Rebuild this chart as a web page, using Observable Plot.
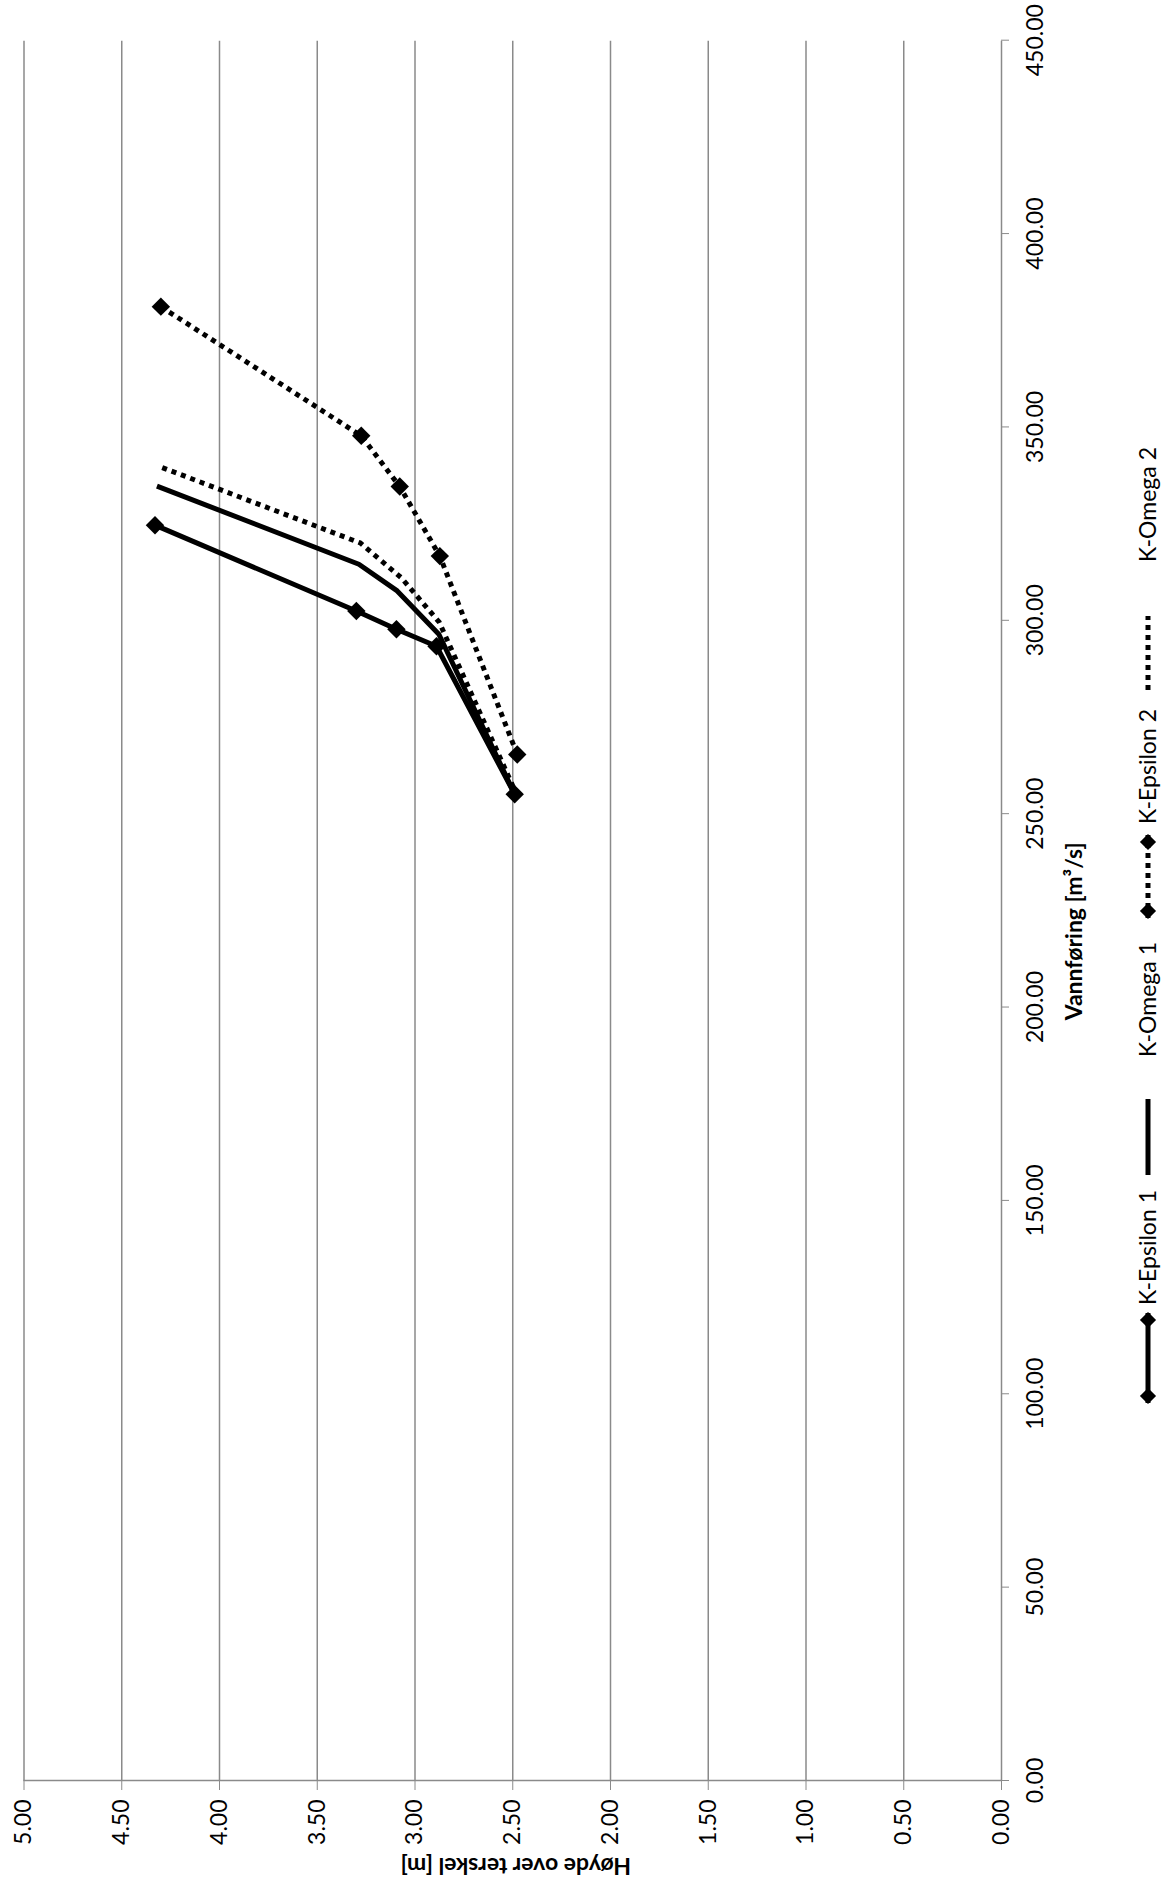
<!DOCTYPE html>
<html><head><meta charset="utf-8">
<script src="https://cdn.jsdelivr.net/npm/d3@7"></script>
<script src="https://cdn.jsdelivr.net/npm/@observablehq/plot@0.6"></script>
<style>
html,body{margin:0;padding:0;background:#fff;width:1162px;height:1899px;overflow:hidden;}
#rot{position:absolute;left:0;top:0;width:1899px;height:1162px;transform-origin:0 0;transform:translate(0px,1899px) rotate(-90deg);background:#fff;}
#rot svg{position:absolute;left:0;top:0;}
</style></head><body>
<div id="rot"></div>
<script>
// Series (Høyde over terskel [m], Vannføring [m³/s])
const seriesNames = ["K-Epsilon 1", "K-Omega 1", "K-Epsilon 2", "K-Omega 2"];
const kEpsilon1Hoyde = [4.33, 3.30, 3.095, 2.89, 2.49];
const kEpsilon1Q     = [324.6, 302.4, 297.7, 293.3, 255.0];
const kOmega1Hoyde   = [4.32, 3.287, 3.091, 2.878, 2.49];
const kOmega1Q       = [334.7, 314.5, 307.6, 296.4, 255.0];
const kEpsilon2Hoyde = [4.30, 3.275, 3.078, 2.873, 2.477];
const kEpsilon2Q     = [381.1, 347.7, 334.6, 316.6, 265.3];
const kOmega2Hoyde   = [4.293, 3.28, 3.07, 2.876, 2.485];
const kOmega2Q       = [339.5, 320.0, 311.0, 299.5, 255.5];
const xTicks = [0, 50, 100, 150, 200, 250, 300, 350, 400, 450];
const yTicks = [0, 0.5, 1, 1.5, 2, 2.5, 3, 3.5, 4, 4.5, 5];
const xTitle = "Vannføring [m³/s]";
const yTitle = "Høyde over terskel [m]";

const hs = [kEpsilon1Hoyde, kOmega1Hoyde, kEpsilon2Hoyde, kOmega2Hoyde];
const qs = [kEpsilon1Q, kOmega1Q, kEpsilon2Q, kOmega2Q];
const rows = [];
seriesNames.forEach((s, i) => hs[i].forEach((h, j) => rows.push({serie: s, h, q: qs[i][j]})));
const of = s => rows.filter(r => r.serie === s);

const styles = {
  "K-Epsilon 1": {dash: null, marker: true},
  "K-Omega 1": {dash: null, marker: false},
  "K-Epsilon 2": {dash: "5,5", marker: true},
  "K-Omega 2": {dash: "5,5", marker: false}
};
const LW = 5, GRID = "#8a8a8a", R = 8.3, FS = 23;
const FONT = "Lato, 'Open Sans', sans-serif";

const marks = [
  Plot.gridY(yTicks.filter(d => d > 0), {stroke: GRID, strokeOpacity: 1, strokeWidth: 1.5}),
  Plot.ruleY([0], {stroke: GRID, strokeWidth: 1.5}),
  Plot.ruleX([0], {stroke: GRID, strokeWidth: 1.5}),
  Plot.axisX(xTicks, {tickFormat: d => d.toFixed(2), tickSize: 8, tickPadding: 17, stroke: GRID, fill: "black", label: null, fontSize: FS}),
  Plot.axisY(yTicks, {tickFormat: d => d.toFixed(2), tickSize: 9, tickPadding: 10, stroke: GRID, fill: "black", label: null, fontSize: FS})
];
for (const s of seriesNames) {
  const st = styles[s];
  marks.push(Plot.line(of(s), {x: "q", y: "h", stroke: "black", strokeWidth: LW,
    strokeDasharray: st.dash, strokeLinejoin: "round", strokeLinecap: "butt"}));
  if (st.marker) marks.push(Plot.dot(of(s), {x: "q", y: "h", symbol: "diamond2", r: R, fill: "black", stroke: "none"}));
}
marks.push(Plot.text([xTitle], {frameAnchor: "bottom", textAnchor: "middle", lineAnchor: "middle", dx: -21, dy: 73, fontWeight: "bold", fontSize: FS, fill: "black"}));
marks.push(Plot.text([yTitle], {frameAnchor: "left", textAnchor: "middle", lineAnchor: "middle", rotate: -90, dx: -85, dy: 3, fontWeight: "bold", fontSize: FS, fill: "black"}));

const chart = Plot.plot({
  width: 1899, height: 1162,
  marginLeft: 118, marginRight: 40.7, marginTop: 23.5, marginBottom: 161,
  x: {domain: [0, 450]},
  y: {domain: [0, 5]},
  style: {fontFamily: FONT, fontSize: FS + "px", color: "black", background: "white"},
  marks
});
document.getElementById("rot").appendChild(chart);

// Legend (below the x-axis title, in the chart's own frame)
const legendLayout = [
  {s: "K-Epsilon 1", a: 496, b: 586, t: 594},
  {s: "K-Omega 1", a: 724, b: 800, t: 842},
  {s: "K-Epsilon 2", a: 981, b: 1064, t: 1075},
  {s: "K-Omega 2", a: 1209, b: 1283, t: 1337}
];
const legendY = 1148;
const lg = d3.select("#rot").append("svg").attr("width", 1899).attr("height", 1162)
  .style("font-family", FONT).style("font-size", FS + "px");
const diamond = d3.symbol(d3.symbolDiamond2, 7.3 * 7.3 * Math.PI);
legendLayout.forEach(L => {
  const st = styles[L.s];
  const g = lg.append("g");
  g.append("line").attr("x1", L.a).attr("x2", L.b).attr("y1", legendY).attr("y2", legendY)
    .attr("stroke", "black").attr("stroke-width", LW).attr("stroke-dasharray", st.dash);
  if (st.marker) {
    [L.a + 7, L.b - 7].forEach(x => g.append("path").attr("d", diamond()).attr("transform", `translate(${x},${legendY})`).attr("fill", "black"));
  }
  g.append("text").attr("x", L.t).attr("y", legendY).attr("dy", "0.35em").attr("fill", "black").text(L.s);
});
</script>
</body></html>
